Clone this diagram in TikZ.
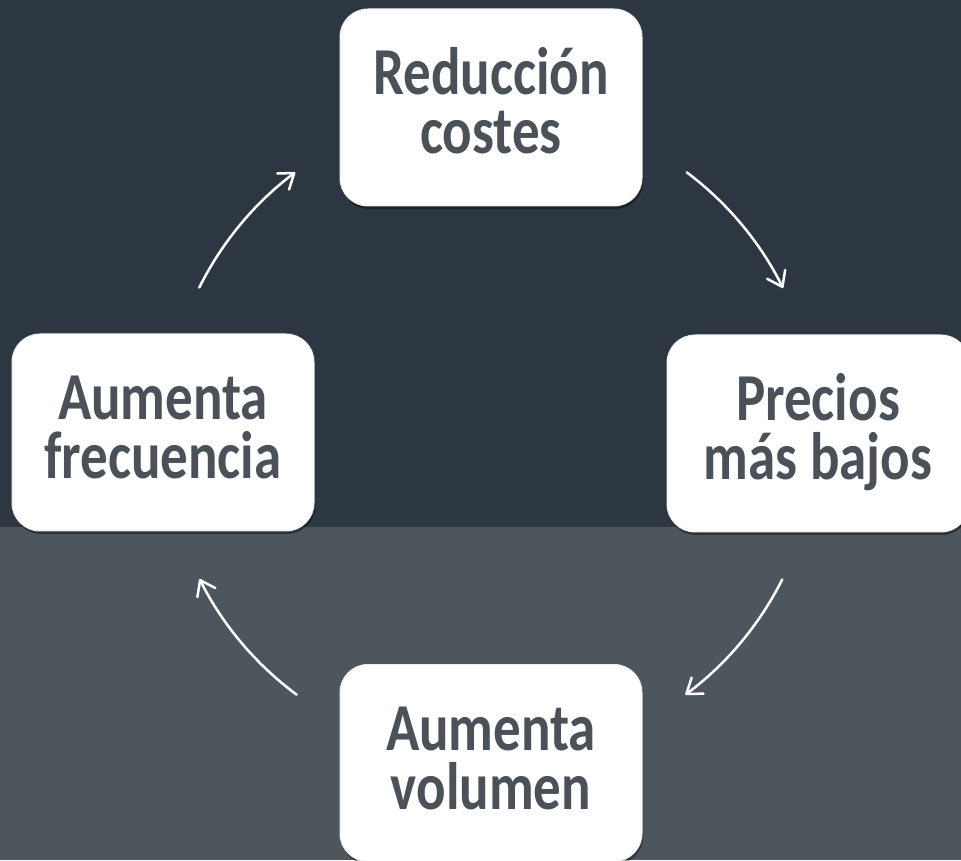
\documentclass[tikz,border=0pt]{standalone}
\usepackage{fontspec}
\setmainfont{Carlito}
\usepackage{graphicx}
\usetikzlibrary{arrows.meta,shadows}
\definecolor{bgtop}{HTML}{2C3741}
\definecolor{bgbot}{HTML}{4D555D}
\definecolor{txtgray}{HTML}{4A5159}
\newcommand\boxrow[1]{\rule[-10.3pt]{0pt}{48.4pt}\smash{#1}}
\newcommand\boxtext[2]{\scalebox{1}[1.22]{\def\arraystretch{0}\begin{tabular}{@{}c@{}}\boxrow{#1}\\\boxrow{#2}\end{tabular}}}
\begin{document}
\begin{tikzpicture}[x=1pt,y=1pt,
  cyclebox/.style={fill=white, draw=black!7, line width=1pt, rounded corners=28pt,
    minimum width=302pt, minimum height=197pt, inner sep=0pt, text=txtgray,
    font=\fontsize{55}{48.4}\selectfont\bfseries,
    drop shadow={shadow xshift=1pt, shadow yshift=-3pt, opacity=0.4, fill=black}},
  cyclearrow/.style={draw=white, line width=2.5pt, line cap=round,
    -{Straight Barb[length=14pt,width=20pt,round]}}]
\clip (0,0) rectangle (961,860);
\fill[bgtop] (0,333) rectangle (961,860);
\fill[bgbot] (0,0) rectangle (961,333);
\node[cyclebox] (costes) at (491,752.5) {\boxtext{Reducción}{costes}};
\node[cyclebox] (precios) at (818,426.5) {\boxtext{Precios}{más bajos}};
\node[cyclebox] (volumen) at (491,97) {\boxtext{Aumenta}{volumen}};
\node[cyclebox] (frecuencia) at (163,427.5) {\boxtext{Aumenta}{frecuencia}};
\coordinate (c) at (491,427);
\draw[cyclearrow] ([shift={(153.5:326)}]c) arc[start angle=153.5, end angle=126.9, radius=326];
\draw[cyclearrow] ([shift={(53.1:326)}]c) arc[start angle=53.1, end angle=26.4, radius=326];
\draw[cyclearrow] ([shift={(-26.7:326)}]c) arc[start angle=-26.7, end angle=-53.4, radius=326];
\draw[cyclearrow] ([shift={(-126.6:326)}]c) arc[start angle=-126.6, end angle=-153.4, radius=326];
\end{tikzpicture}
\end{document}
